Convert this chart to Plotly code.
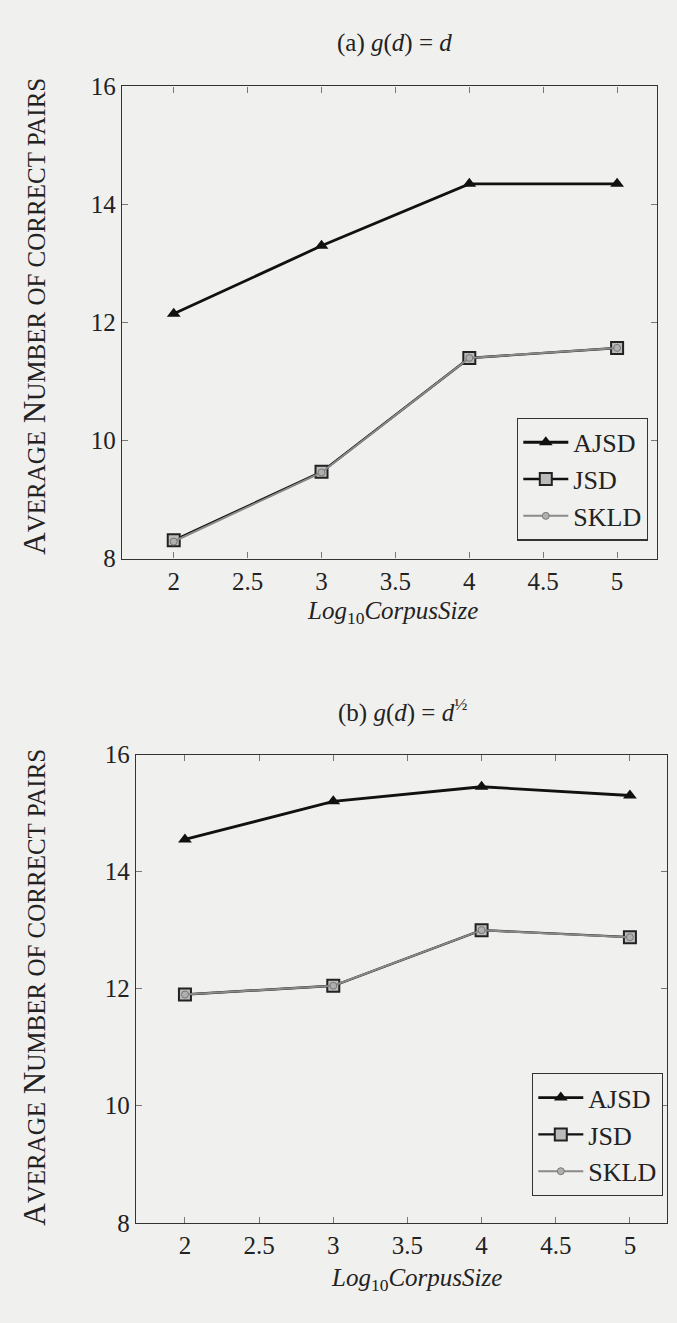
import plotly.graph_objects as go

x_vals = [2, 3, 4, 5]

# (a) g(d) = d
ajsd_a = [12.15, 13.3, 14.35, 14.35]
jsd_a = [8.31, 9.47, 11.4, 11.57]
skld_a = [8.29, 9.46, 11.4, 11.57]

# (b) g(d) = d^(1/2)
ajsd_b = [14.55, 15.2, 15.45, 15.3]
jsd_b = [11.9, 12.05, 13.0, 12.88]
skld_b = [11.9, 12.05, 13.0, 12.88]

x_ticks = [2, 2.5, 3, 3.5, 4, 4.5, 5]
y_ticks = [8, 10, 12, 14, 16]
series_names = ["AJSD", "JSD", "SKLD"]

FONT = "Liberation Serif"
BG = "#f0f0ee"

fig = go.Figure()

def add_series(vals, xa, ya, legend):
    a, j, s = vals
    fig.add_trace(go.Scatter(x=x_vals, y=a, name=series_names[0], mode="lines+markers",
                             line=dict(color="#111111", width=2.8),
                             marker=dict(symbol="triangle-up", size=12, color="#111111"),
                             xaxis=xa, yaxis=ya, legend=legend))
    fig.add_trace(go.Scatter(x=x_vals, y=j, name=series_names[1], mode="lines+markers",
                             line=dict(color="#111111", width=2.4),
                             marker=dict(symbol="square", size=12, color="#bbbbbb",
                                         line=dict(color="#222222", width=2)),
                             xaxis=xa, yaxis=ya, legend=legend))
    fig.add_trace(go.Scatter(x=x_vals, y=s, name=series_names[2], mode="lines+markers",
                             line=dict(color="#8a8a8a", width=2),
                             marker=dict(symbol="circle", size=7, color="#b0b0b0",
                                         line=dict(color="#777777", width=1)),
                             xaxis=xa, yaxis=ya, legend=legend))

add_series((ajsd_a, jsd_a, skld_a), "x", "y", "legend")
add_series((ajsd_b, jsd_b, skld_b), "x2", "y2", "legend2")

W, H = 677, 1323
def px(v): return v / W
def py(v): return 1 - v / H

axis_common = dict(showline=True, mirror="ticks", linecolor="#333333", linewidth=1.3,
                   ticks="inside", ticklen=6, tickcolor="#777777",
                   showgrid=False, zeroline=False,
                   tickfont=dict(family=FONT, size=25, color="#222222"))

legend_common = dict(xanchor="right", yanchor="top", bgcolor=BG, bordercolor="#333333",
                     borderwidth=1.3, font=dict(family=FONT, size=26, color="#222222"),
                     itemwidth=45, tracegroupgap=0)

fig.update_layout(
    width=W, height=H,
    margin=dict(l=0, r=0, t=0, b=0),
    paper_bgcolor=BG, plot_bgcolor=BG,
    font=dict(family=FONT, color="#222222"),
    xaxis=dict(domain=[px(122), px(657)], range=[1.65, 5.27], tickvals=x_ticks,
               ticktext=[str(t) for t in x_ticks], anchor="y", **axis_common),
    yaxis=dict(domain=[py(557), py(75)], range=[8, 16], tickvals=y_ticks, anchor="x",
               **axis_common),
    xaxis2=dict(domain=[px(136), px(667)], range=[1.67, 5.25], tickvals=x_ticks,
                ticktext=[str(t) for t in x_ticks], anchor="y2", **axis_common),
    yaxis2=dict(domain=[py(1235), py(757)], range=[8, 16], tickvals=y_ticks, anchor="x2",
                **axis_common),
    legend=dict(x=px(648), y=py(413), **legend_common),
    legend2=dict(x=px(663), y=py(1082), **legend_common),
    showlegend=True,
)

ann_font = dict(family=FONT, size=25, color="#222222")
ytitle = ("A<span style='font-size:25px'>VERAGE</span> N<span style='font-size:25px'>UMBER OF "
          "CORRECT PAIRS</span>")
annotations = [
    dict(text="(a) <i>g</i>(<i>d</i>) = <i>d</i>", x=px(394), y=py(31)),
    dict(text="(b) <i>g</i>(<i>d</i>) = <i>d</i><sup>½</sup>", x=px(402), y=py(712)),
    dict(text="<i>Log</i><sub>10</sub><i>CorpusSize</i>", x=px(392), y=py(612)),
    dict(text="<i>Log</i><sub>10</sub><i>CorpusSize</i>", x=px(416), y=py(1293)),
    dict(text=ytitle, x=px(35), y=py(310), textangle=-90, font=dict(family=FONT, size=31, color="#222222")),
    dict(text=ytitle, x=px(35), y=py(995), textangle=-90, font=dict(family=FONT, size=31, color="#222222")),
]
for a in annotations:
    a.update(xref="paper", yref="paper", showarrow=False, xanchor="center", yanchor="middle")
    a.setdefault("font", ann_font)
fig.update_layout(annotations=annotations)

fig.write_html("out.html", config={"displayModeBar": False},
               post_script="document.body.style.margin='0';document.body.style.background='%s';" % BG)
